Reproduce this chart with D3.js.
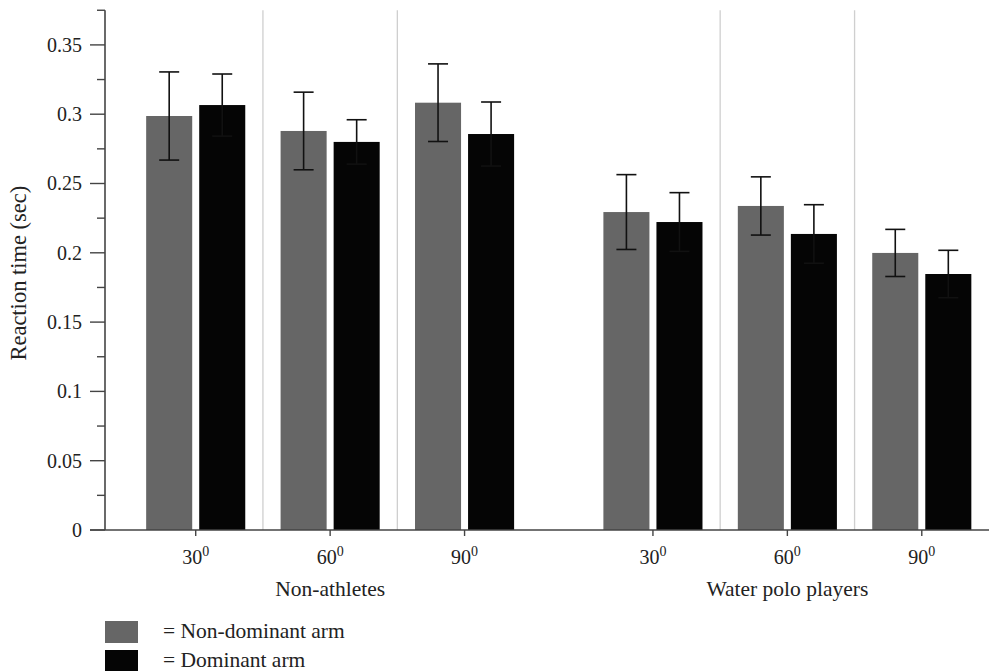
<!DOCTYPE html>
<html>
<head>
<meta charset="utf-8">
<script src="https://cdn.jsdelivr.net/npm/d3@7"></script>
<style>
  body { margin: 0; background: #fff; }
  svg { display: block; }
</style>
</head>
<body>
<svg id="chart" width="989" height="671"></svg>
<script>
// ---- data ----
const groups = ["Non-athletes", "Water polo players"];
const angles = ["30", "60", "90"];
const arms = ["Non-dominant arm", "Dominant arm"];
// values ordered: Non-athletes 30,60,90 then Water polo players 30,60,90
const nonDominant    = [0.2987, 0.2879, 0.3083, 0.2294, 0.2338, 0.1999];
const nonDominantErr = [0.0318, 0.0280, 0.0280, 0.0270, 0.0210, 0.0170];
const dominant       = [0.3066, 0.2800, 0.2857, 0.2222, 0.2136, 0.1847];
const dominantErr    = [0.0224, 0.0160, 0.0231, 0.0212, 0.0211, 0.0171];
const yMajorTicks = [0, 0.05, 0.1, 0.15, 0.2, 0.25, 0.3, 0.35];
const yTickLabels = ["0", "0.05", "0.1", "0.15", "0.2", "0.25", "0.3", "0.35"];
const yMinorTicks = [0.025, 0.075, 0.125, 0.175, 0.225, 0.275, 0.325, 0.375];
const yMax = 0.375;
const yTitle = "Reaction time (sec)";
const colors = { "Non-dominant arm": "#666666", "Dominant arm": "#050505" };

// build records
const records = [];
groups.forEach((g, gi) => angles.forEach((a, ai) => {
  const i = gi * angles.length + ai;
  records.push({ group: g, angle: a, arm: arms[0], value: nonDominant[i], err: nonDominantErr[i] });
  records.push({ group: g, angle: a, arm: arms[1], value: dominant[i], err: dominantErr[i] });
}));

// ---- layout ----
const FONT = "Liberation Serif";
const FS = 20, FS_TXT = 21.5, FS_TITLE = 22.5;
const svg = d3.select("#chart");
const axisX = 105, baseY = 530, topY = 10.25, rightX = 989;

const y = d3.scaleLinear().domain([0, yMax]).range([baseY, topY]);
const x0 = d3.scaleBand().domain(groups).range([128.5, 989]).paddingInner(0.118).paddingOuter(0);
const x1 = d3.scaleBand().domain(angles).range([0, x0.bandwidth()]).padding(0);
const x2 = d3.scaleBand().domain(arms).range([0, x1.bandwidth()]).paddingInner(0.132).paddingOuter(0.333);

// separators between angle slots
const seps = [];
groups.forEach(g => angles.slice(1).forEach(a => seps.push(x0(g) + x1(a))));
svg.append("g").selectAll("line").data(seps).join("line")
  .attr("x1", d => d).attr("x2", d => d)
  .attr("y1", topY).attr("y2", baseY)
  .attr("stroke", "#cfcfcf").attr("stroke-width", 1.3);

// bars
svg.append("g").selectAll("rect").data(records).join("rect")
  .attr("x", d => x0(d.group) + x1(d.angle) + x2(d.arm))
  .attr("width", x2.bandwidth())
  .attr("y", d => y(d.value))
  .attr("height", d => baseY - y(d.value))
  .attr("fill", d => colors[d.arm]);

// error bars
const eb = svg.append("g").attr("stroke", "#111").attr("stroke-width", 1.6);
records.forEach(d => {
  const cx = x0(d.group) + x1(d.angle) + x2(d.arm) + x2.bandwidth() / 2;
  const yt = y(d.value + d.err), yb = y(d.value - d.err);
  eb.append("line").attr("x1", cx).attr("x2", cx).attr("y1", yt).attr("y2", yb);
  eb.append("line").attr("x1", cx - 10).attr("x2", cx + 10).attr("y1", yt).attr("y2", yt);
  eb.append("line").attr("x1", cx - 10).attr("x2", cx + 10).attr("y1", yb).attr("y2", yb);
});

// y axis
const yAxis = svg.append("g");
yAxis.append("line").attr("x1", axisX).attr("x2", axisX).attr("y1", topY).attr("y2", baseY)
  .attr("stroke", "#444").attr("stroke-width", 1.6);
yAxis.selectAll(".maj").data(yMajorTicks).join("line").attr("class", "maj")
  .attr("x1", axisX - 15).attr("x2", axisX).attr("y1", d => y(d)).attr("y2", d => y(d))
  .attr("stroke", "#444").attr("stroke-width", 1.4);
yAxis.selectAll(".min").data(yMinorTicks).join("line").attr("class", "min")
  .attr("x1", axisX - 8).attr("x2", axisX).attr("y1", d => y(d)).attr("y2", d => y(d))
  .attr("stroke", "#444").attr("stroke-width", 1.4);
yAxis.selectAll("text").data(yMajorTicks).join("text")
  .attr("x", axisX - 23).attr("y", d => y(d)).attr("dy", "0.34em")
  .attr("text-anchor", "end").attr("font-size", FS).attr("font-family", FONT).attr("fill", "#222")
  .text((d, i) => yTickLabels[i]);

svg.append("text")
  .attr("transform", `translate(26,${(baseY + topY) / 2 + 3}) rotate(-90)`)
  .attr("text-anchor", "middle").attr("font-size", FS_TITLE).attr("font-family", FONT).attr("fill", "#222")
  .text(yTitle);

// x axis
const xAxis = svg.append("g");
xAxis.append("line").attr("x1", axisX - 15).attr("x2", rightX).attr("y1", baseY).attr("y2", baseY)
  .attr("stroke", "#444").attr("stroke-width", 1.6);
const tickData = [];
groups.forEach(g => angles.forEach(a => tickData.push({ g, a, x: x0(g) + x1(a) + x1.bandwidth() / 2 })));
xAxis.selectAll("line.t").data(tickData).join("line").attr("class", "t")
  .attr("x1", d => d.x).attr("x2", d => d.x).attr("y1", baseY).attr("y2", baseY + 6)
  .attr("stroke", "#444").attr("stroke-width", 1.4);
const tl = xAxis.selectAll("text.t").data(tickData).join("text").attr("class", "t")
  .attr("x", d => d.x).attr("y", 564).attr("text-anchor", "middle")
  .attr("font-size", FS).attr("font-family", FONT).attr("fill", "#222");
tl.append("tspan").text(d => d.a);
tl.append("tspan").attr("dy", -8).attr("font-size", 14).text("0");

xAxis.selectAll("text.g").data(groups).join("text").attr("class", "g")
  .attr("x", g => x0(g) + x0.bandwidth() / 2).attr("y", 596)
  .attr("text-anchor", "middle").attr("font-size", FS_TXT).attr("font-family", FONT).attr("fill", "#222")
  .text(g => g);

// legend
const legend = svg.append("g");
const legendY = [621, 650];
arms.forEach((a, i) => {
  legend.append("rect").attr("x", 105).attr("y", legendY[i]).attr("width", 33).attr("height", 22)
    .attr("fill", colors[a]);
  legend.append("text").attr("x", 163).attr("y", legendY[i] + 17)
    .attr("font-size", FS_TXT).attr("font-family", FONT).attr("fill", "#222")
    .text("= " + a);
});
</script>
</body>
</html>
